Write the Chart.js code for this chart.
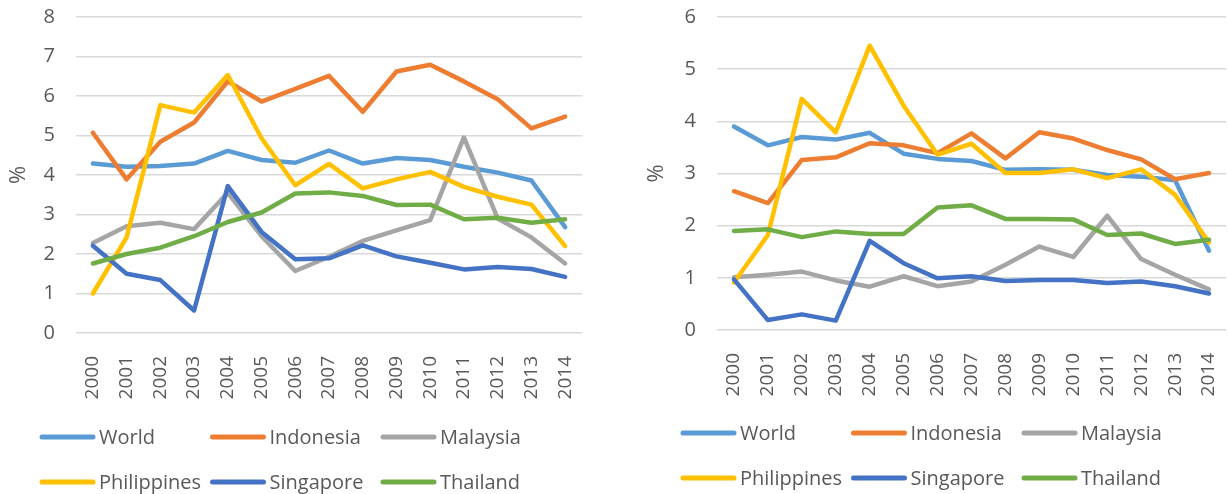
<!DOCTYPE html>
<html>
<head>
<meta charset="utf-8">
<script src="https://cdn.jsdelivr.net/npm/chart.js@4/dist/chart.umd.min.js"></script>
<style>
  body { margin: 0; background: #fff; }
  #left, #right { position: absolute; top: 0; }
  #left { left: 0; }
  #right { left: 614px; }
</style>
</head>
<body>
<canvas id="left" width="614" height="494"></canvas>
<canvas id="right" width="614" height="494"></canvas>
<script>
const years = ["2000","2001","2002","2003","2004","2005","2006","2007","2008","2009","2010","2011","2012","2013","2014"];
const countries = ["World", "Indonesia", "Malaysia", "Philippines", "Singapore", "Thailand"];
const colores = ["#5B9BD5", "#ED7D31", "#A5A5A5", "#FFC000", "#4472C4", "#70AD47"];

// grafico izquierdo
const worldA = [4.29,4.21,4.23,4.29,4.61,4.38,4.31,4.62,4.29,4.43,4.38,4.21,4.06,3.86,2.68];
const indonesiaA = [5.07,3.89,4.84,5.33,6.37,5.86,6.18,6.51,5.60,6.62,6.79,6.37,5.92,5.18,5.48];
const malaysiaA = [2.28,2.70,2.79,2.63,3.55,2.45,1.57,1.93,2.33,2.60,2.86,4.95,2.90,2.42,1.76];
const philippinesA = [1.00,2.42,5.77,5.58,6.53,4.93,3.74,4.28,3.66,3.89,4.08,3.70,3.45,3.25,2.20];
const singaporeA = [2.21,1.50,1.34,0.57,3.72,2.56,1.87,1.89,2.22,1.94,1.78,1.61,1.67,1.62,1.42];
const thailandA = [1.76,2.00,2.16,2.45,2.81,3.05,3.53,3.56,3.47,3.24,3.25,2.88,2.92,2.79,2.88];

// grafico derecho
const worldB = [3.90,3.54,3.70,3.65,3.78,3.38,3.28,3.24,3.07,3.08,3.07,2.97,2.94,2.87,1.52];
const indonesiaB = [2.66,2.43,3.26,3.31,3.58,3.54,3.39,3.77,3.29,3.79,3.67,3.45,3.27,2.89,3.01];
const malaysiaB = [1.01,1.06,1.12,0.95,0.83,1.03,0.84,0.93,1.25,1.60,1.40,2.19,1.36,1.06,0.78];
const philippinesB = [0.91,1.82,4.43,3.79,5.45,4.30,3.36,3.57,3.01,3.01,3.08,2.91,3.08,2.59,1.68];
const singaporeB = [0.97,0.19,0.30,0.18,1.71,1.28,0.99,1.03,0.94,0.96,0.96,0.90,0.93,0.84,0.70];
const thailandB = [1.90,1.93,1.78,1.89,1.84,1.84,2.35,2.39,2.13,2.13,2.12,1.82,1.85,1.65,1.73];

Chart.defaults.font.family = "'Open Sans', sans-serif";
Chart.defaults.color = "#595959";

// leyenda en 3 columnas como en excel
const gridLegend = {
  id: "gridLegend",
  afterDraw(chart, args, opts) {
    const ctx = chart.ctx;
    ctx.save();
    ctx.font = "20px 'Open Sans', sans-serif";
    ctx.textBaseline = "middle";
    ctx.textAlign = "left";
    countries.forEach((name, i) => {
      const col = i % 3;
      const row = Math.floor(i / 3);
      const x = opts.x + col * opts.colW;
      const y = opts.y + row * opts.rowH;
      ctx.strokeStyle = colores[i];
      ctx.lineWidth = 5;
      ctx.lineCap = "round";
      ctx.beginPath();
      ctx.moveTo(x + 2, y);
      ctx.lineTo(x + 53, y);
      ctx.stroke();
      ctx.fillStyle = "#595959";
      ctx.fillText(name, x + 59, y + 1);
    });
    ctx.restore();
  }
};

function makeDatasets(series) {
  return series.map((data, i) => ({
    label: countries[i],
    data,
    borderColor: colores[i],
    backgroundColor: colores[i],
    borderWidth: 4.5,
    borderCapStyle: "round",
    borderJoinStyle: "round",
    pointRadius: 0,
    tension: 0,
    order: series.length - i
  }));
}

function renderGrafica(id, series, maxY, yWidth, xHeight, padLeft, padRight, legendPos) {
  new Chart(document.getElementById(id), {
    type: "line",
    data: { labels: years, datasets: makeDatasets(series) },
    options: {
      responsive: false,
      animation: false,
      layout: { padding: { top: 17, left: padLeft, right: padRight, bottom: 0 } },
      plugins: {
        legend: { display: false },
        tooltip: { enabled: false },
        gridLegend: legendPos
      },
      scales: {
        x: {
          offset: true,
          grid: { display: false },
          border: { display: false },
          ticks: { maxRotation: 90, minRotation: 90, padding: 15, font: { size: 19 }, color: "#595959" },
          afterFit(scale) { scale.height = xHeight; scale.paddingLeft = 0; scale.paddingRight = 0; }
        },
        y: {
          min: 0,
          max: maxY,
          ticks: { stepSize: 1, padding: 21, font: { size: 20 }, color: "#595959" },
          grid: { color: "#d9d9d9", lineWidth: 1.5, drawTicks: false },
          border: { display: false },
          title: { display: true, text: "%", font: { size: 22 }, color: "#595959", padding: { top: 6, bottom: 0 } },
          afterFit(scale) { scale.width = yWidth; scale.paddingTop = 0; scale.paddingBottom = 0; }
        }
      }
    },
    plugins: [gridLegend]
  });
}

renderGrafica("left", [worldA, indonesiaA, malaysiaA, philippinesA, singaporeA, thailandA],
  8, 76, 161, 0, 32, { x: 40, y: 437, colW: 170.5, rowH: 45 });
renderGrafica("right", [worldB, indonesiaB, malaysiaB, philippinesB, singaporeB, thailandB],
  6, 79, 164, 24, 2, { x: 67, y: 433, colW: 170.5, rowH: 45 });
</script>
</body>
</html>
